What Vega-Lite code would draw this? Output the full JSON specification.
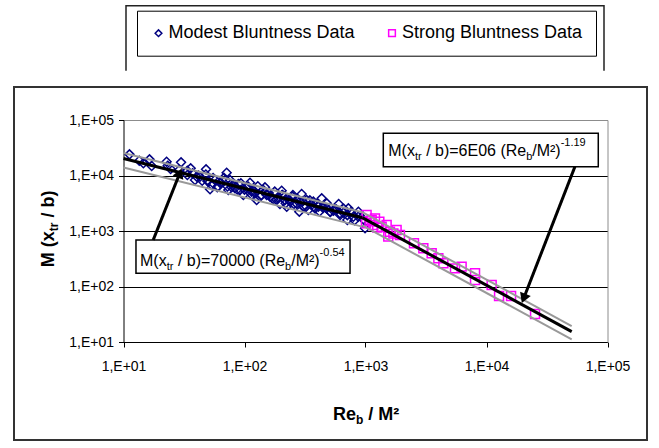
{
  "$schema": "https://vega.github.io/schema/vega-lite/v6.json",
  "autosize": {"type": "none"},
  "padding": {"left": 14, "top": 87, "right": 12, "bottom": 8},
  "width": 633,
  "height": 353,
  "background": "white",
  "config": {
    "view": {"stroke": "#333333", "strokeWidth": 2, "fill": "white"},
    "axis": {"labelFont": "Liberation Sans", "titleFont": "Liberation Sans", "titleColor": "#000", "labelColor": "#000"},
    "legend": {"labelFont": "Liberation Sans"},
    "text": {"font": "Liberation Sans"}
  },
  "datasets": {
    "pts": [
      {"series": "Modest Bluntness Data", "re": 11.2, "m": 24050},
      {"series": "Modest Bluntness Data", "re": 13.5, "m": 18500},
      {"series": "Modest Bluntness Data", "re": 14.6, "m": 16560},
      {"series": "Modest Bluntness Data", "re": 16.4, "m": 19540},
      {"series": "Modest Bluntness Data", "re": 17.1, "m": 14830},
      {"series": "Modest Bluntness Data", "re": 22.7, "m": 17750},
      {"series": "Modest Bluntness Data", "re": 23.2, "m": 15030},
      {"series": "Modest Bluntness Data", "re": 24.5, "m": 13090},
      {"series": "Modest Bluntness Data", "re": 29.9, "m": 17260},
      {"series": "Modest Bluntness Data", "re": 28.9, "m": 12560},
      {"series": "Modest Bluntness Data", "re": 33.7, "m": 12220},
      {"series": "Modest Bluntness Data", "re": 35.9, "m": 13460},
      {"series": "Modest Bluntness Data", "re": 33.7, "m": 10200},
      {"series": "Modest Bluntness Data", "re": 37.3, "m": 10930},
      {"series": "Modest Bluntness Data", "re": 39.0, "m": 8300},
      {"series": "Modest Bluntness Data", "re": 40.3, "m": 9530},
      {"series": "Modest Bluntness Data", "re": 42.9, "m": 9530},
      {"series": "Modest Bluntness Data", "re": 48.1, "m": 12910},
      {"series": "Modest Bluntness Data", "re": 49.3, "m": 7960},
      {"series": "Modest Bluntness Data", "re": 51.9, "m": 5640},
      {"series": "Modest Bluntness Data", "re": 53.6, "m": 6750},
      {"series": "Modest Bluntness Data", "re": 57.0, "m": 8300},
      {"series": "Modest Bluntness Data", "re": 59.6, "m": 6120},
      {"series": "Modest Bluntness Data", "re": 63.5, "m": 7220},
      {"series": "Modest Bluntness Data", "re": 71.2, "m": 11250},
      {"series": "Modest Bluntness Data", "re": 70.3, "m": 8300},
      {"series": "Modest Bluntness Data", "re": 75.9, "m": 8300},
      {"series": "Modest Bluntness Data", "re": 78.3, "m": 6120},
      {"series": "Modest Bluntness Data", "re": 73.5, "m": 5480},
      {"series": "Modest Bluntness Data", "re": 83.4, "m": 5870},
      {"series": "Modest Bluntness Data", "re": 88.9, "m": 7030},
      {"series": "Modest Bluntness Data", "re": 91.8, "m": 5480},
      {"series": "Modest Bluntness Data", "re": 97.8, "m": 4460},
      {"series": "Modest Bluntness Data", "re": 104.2, "m": 6120},
      {"series": "Modest Bluntness Data", "re": 111.0, "m": 7430},
      {"series": "Modest Bluntness Data", "re": 114.6, "m": 5120},
      {"series": "Modest Bluntness Data", "re": 122.1, "m": 4780},
      {"series": "Modest Bluntness Data", "re": 126.0, "m": 3620},
      {"series": "Modest Bluntness Data", "re": 134.3, "m": 4160},
      {"series": "Modest Bluntness Data", "re": 143.1, "m": 5480},
      {"series": "Modest Bluntness Data", "re": 147.6, "m": 6120},
      {"series": "Modest Bluntness Data", "re": 152.4, "m": 4460},
      {"series": "Modest Bluntness Data", "re": 162.5, "m": 4160},
      {"series": "Modest Bluntness Data", "re": 173.0, "m": 3720},
      {"series": "Modest Bluntness Data", "re": 184.5, "m": 3620},
      {"series": "Modest Bluntness Data", "re": 196.3, "m": 3070},
      {"series": "Modest Bluntness Data", "re": 202.8, "m": 5330},
      {"series": "Modest Bluntness Data", "re": 206.5, "m": 4460},
      {"series": "Modest Bluntness Data", "re": 216.3, "m": 3620},
      {"series": "Modest Bluntness Data", "re": 223.4, "m": 2740},
      {"series": "Modest Bluntness Data", "re": 237.7, "m": 3380},
      {"series": "Modest Bluntness Data", "re": 250.0, "m": 4160},
      {"series": "Modest Bluntness Data", "re": 256.4, "m": 3070},
      {"series": "Modest Bluntness Data", "re": 269.8, "m": 3620},
      {"series": "Modest Bluntness Data", "re": 283.8, "m": 2230},
      {"series": "Modest Bluntness Data", "re": 296.5, "m": 4650},
      {"series": "Modest Bluntness Data", "re": 310.3, "m": 2740},
      {"series": "Modest Bluntness Data", "re": 326.3, "m": 3620},
      {"series": "Modest Bluntness Data", "re": 337.1, "m": 2390},
      {"series": "Modest Bluntness Data", "re": 358.9, "m": 2940},
      {"series": "Modest Bluntness Data", "re": 370.7, "m": 3380},
      {"series": "Modest Bluntness Data", "re": 382.8, "m": 2560},
      {"series": "Modest Bluntness Data", "re": 407.6, "m": 2740},
      {"series": "Modest Bluntness Data", "re": 434.5, "m": 3880},
      {"series": "Modest Bluntness Data", "re": 442.6, "m": 2740},
      {"series": "Modest Bluntness Data", "re": 477.5, "m": 2560},
      {"series": "Modest Bluntness Data", "re": 509.2, "m": 2230},
      {"series": "Modest Bluntness Data", "re": 542.4, "m": 2320},
      {"series": "Modest Bluntness Data", "re": 600.0, "m": 3070},
      {"series": "Modest Bluntness Data", "re": 615.2, "m": 2080},
      {"series": "Modest Bluntness Data", "re": 655.6, "m": 2140},
      {"series": "Modest Bluntness Data", "re": 707.9, "m": 1580},
      {"series": "Modest Bluntness Data", "re": 721.6, "m": 2560},
      {"series": "Modest Bluntness Data", "re": 793.6, "m": 1810},
      {"series": "Modest Bluntness Data", "re": 873.7, "m": 2230},
      {"series": "Modest Bluntness Data", "re": 991.4, "m": 1120},
      {"series": "Modest Bluntness Data", "re": 960.0, "m": 1620},
      {"series": "Modest Bluntness Data", "re": 41.7, "m": 10000},
      {"series": "Modest Bluntness Data", "re": 44.7, "m": 8020},
      {"series": "Modest Bluntness Data", "re": 47.9, "m": 10420},
      {"series": "Modest Bluntness Data", "re": 50.1, "m": 8070},
      {"series": "Modest Bluntness Data", "re": 55.0, "m": 9020},
      {"series": "Modest Bluntness Data", "re": 60.3, "m": 6370},
      {"series": "Modest Bluntness Data", "re": 63.1, "m": 7460},
      {"series": "Modest Bluntness Data", "re": 67.6, "m": 9060},
      {"series": "Modest Bluntness Data", "re": 72.4, "m": 6320},
      {"series": "Modest Bluntness Data", "re": 77.6, "m": 6980},
      {"series": "Modest Bluntness Data", "re": 81.3, "m": 6980},
      {"series": "Modest Bluntness Data", "re": 87.1, "m": 5580},
      {"series": "Modest Bluntness Data", "re": 93.3, "m": 7260},
      {"series": "Modest Bluntness Data", "re": 100, "m": 5560},
      {"series": "Modest Bluntness Data", "re": 107.2, "m": 6300},
      {"series": "Modest Bluntness Data", "re": 114.8, "m": 4500},
      {"series": "Modest Bluntness Data", "re": 120.2, "m": 5270},
      {"series": "Modest Bluntness Data", "re": 128.8, "m": 6400},
      {"series": "Modest Bluntness Data", "re": 138.0, "m": 4460},
      {"series": "Modest Bluntness Data", "re": 147.9, "m": 4930},
      {"series": "Modest Bluntness Data", "re": 158.5, "m": 4860},
      {"series": "Modest Bluntness Data", "re": 169.8, "m": 3900},
      {"series": "Modest Bluntness Data", "re": 177.8, "m": 5130},
      {"series": "Modest Bluntness Data", "re": 190.5, "m": 3930},
      {"series": "Modest Bluntness Data", "re": 204.2, "m": 4450},
      {"series": "Modest Bluntness Data", "re": 218.8, "m": 3170},
      {"series": "Modest Bluntness Data", "re": 234.4, "m": 3670},
      {"series": "Modest Bluntness Data", "re": 251.2, "m": 4460},
      {"series": "Modest Bluntness Data", "re": 269.2, "m": 3110},
      {"series": "Modest Bluntness Data", "re": 288.4, "m": 3440},
      {"series": "Modest Bluntness Data", "re": 302.0, "m": 3440},
      {"series": "Modest Bluntness Data", "re": 323.6, "m": 2750},
      {"series": "Modest Bluntness Data", "re": 346.7, "m": 3570},
      {"series": "Modest Bluntness Data", "re": 371.5, "m": 2740},
      {"series": "Modest Bluntness Data", "re": 398.1, "m": 3100},
      {"series": "Modest Bluntness Data", "re": 416.9, "m": 2240},
      {"series": "Modest Bluntness Data", "re": 446.7, "m": 2590},
      {"series": "Modest Bluntness Data", "re": 478.6, "m": 3150},
      {"series": "Modest Bluntness Data", "re": 512.9, "m": 2200},
      {"series": "Modest Bluntness Data", "re": 549.5, "m": 2430},
      {"series": "Modest Bluntness Data", "re": 575.4, "m": 2430},
      {"series": "Modest Bluntness Data", "re": 616.6, "m": 1940},
      {"series": "Modest Bluntness Data", "re": 660.7, "m": 2520},
      {"series": "Modest Bluntness Data", "re": 707.9, "m": 1930},
      {"series": "Modest Bluntness Data", "re": 758.6, "m": 2190},
      {"series": "Modest Bluntness Data", "re": 812.8, "m": 1560},
      {"series": "Modest Bluntness Data", "re": 871.0, "m": 1810},
      {"series": "Strong Bluntness Data", "re": 1021, "m": 1940},
      {"series": "Strong Bluntness Data", "re": 1009, "m": 1374},
      {"series": "Strong Bluntness Data", "re": 1124, "m": 1578},
      {"series": "Strong Bluntness Data", "re": 1198, "m": 1690},
      {"series": "Strong Bluntness Data", "re": 1161, "m": 1282},
      {"series": "Strong Bluntness Data", "re": 1301, "m": 1473},
      {"series": "Strong Bluntness Data", "re": 1359, "m": 1197},
      {"series": "Strong Bluntness Data", "re": 1495, "m": 1282},
      {"series": "Strong Bluntness Data", "re": 1542, "m": 791},
      {"series": "Strong Bluntness Data", "re": 1592, "m": 973},
      {"series": "Strong Bluntness Data", "re": 1807, "m": 1042},
      {"series": "Strong Bluntness Data", "re": 1926, "m": 847},
      {"series": "Strong Bluntness Data", "re": 1080, "m": 1500},
      {"series": "Strong Bluntness Data", "re": 1250, "m": 1150},
      {"series": "Strong Bluntness Data", "re": 1700, "m": 900},
      {"series": "Strong Bluntness Data", "re": 2516, "m": 600},
      {"series": "Strong Bluntness Data", "re": 3006, "m": 488},
      {"series": "Strong Bluntness Data", "re": 3523, "m": 396},
      {"series": "Strong Bluntness Data", "re": 4000, "m": 322},
      {"series": "Strong Bluntness Data", "re": 4400, "m": 262},
      {"series": "Strong Bluntness Data", "re": 5490, "m": 212},
      {"series": "Strong Bluntness Data", "re": 6230, "m": 228},
      {"series": "Strong Bluntness Data", "re": 8040, "m": 173},
      {"series": "Strong Bluntness Data", "re": 8040, "m": 131},
      {"series": "Strong Bluntness Data", "re": 11030, "m": 106},
      {"series": "Strong Bluntness Data", "re": 12700, "m": 67.5},
      {"series": "Strong Bluntness Data", "re": 15960, "m": 67.5},
      {"series": "Strong Bluntness Data", "re": 25180, "m": 32}
    ],
    "lines": [
      {"series": "modest", "band": "fit", "re": 10, "m": 20200},
      {"series": "modest", "band": "fit", "re": 940, "m": 1735},
      {"series": "modest", "band": "upper", "re": 10, "m": 25400},
      {"series": "modest", "band": "upper", "re": 940, "m": 2185},
      {"series": "modest", "band": "lower", "re": 10, "m": 13960},
      {"series": "modest", "band": "lower", "re": 940, "m": 1200},
      {"series": "strong", "band": "fit", "re": 940, "m": 1738},
      {"series": "strong", "band": "fit", "re": 50600, "m": 15.4},
      {"series": "strong", "band": "upper", "re": 940, "m": 2188},
      {"series": "strong", "band": "upper", "re": 50600, "m": 19.4},
      {"series": "strong", "band": "lower", "re": 940, "m": 1259},
      {"series": "strong", "band": "lower", "re": 50600, "m": 11.2}
    ],
    "notes": [
      {"id": "modest", "bx": 12.68, "bx2": 745, "by": 689, "by2": 173, "tx": 13.69, "ty": 237,
       "p1": "M(x", "p2": "tr", "p3": "/ b)=70000 (Re", "p4": "b", "p5": "/M²)", "p6": "-0.54"},
      {"id": "strong", "bx": 1403, "bx2": 83900, "by": 57500, "by2": 14420, "tx": 1542, "ty": 22440,
       "p1": "M(x", "p2": "tr", "p3": "/ b)=6E06 (Re", "p4": "b", "p5": "/M²)", "p6": "-1.19"}
    ],
    "arrows": [
      {"id": "modest", "x": 17.6, "y": 689, "x2": 29.2, "y2": 11040},
      {"id": "strong", "x": 53800, "y": 14420, "x2": 20270, "y2": 60.8}
    ]
  },
  "resolve": {"axis": {"x": "independent", "y": "independent"}},
  "layer": [
    {
      "data": {"name": "pts"},
      "mark": {"type": "point", "filled": false, "strokeWidth": 1.5, "size": 80, "opacity": 1},
      "encoding": {
        "x": {"field": "re", "type": "quantitative",
          "scale": {"type": "log", "domain": [10, 100000], "range": [109.5, 593.5], "nice": false},
          "axis": {"orient": "bottom", "offset": -98, "values": [10, 100, 1000, 10000, 100000],
            "labelExpr": "'1,E+0' + round(log(datum.value)/LN10)", "grid": false,
            "domainColor": "#000", "domainWidth": 1, "tickColor": "#000", "tickSize": 5, "tickWidth": 1,
            "labelPadding": 12, "labelFontSize": 14, "labelFlush": false, "labelOverlap": false,
            "title": "Re", "titleX": 318.4, "titleY": 77.5, "titleAlign": "left", "titleBaseline": "alphabetic",
            "titleFontSize": 18, "titleFontWeight": "bold", "titleAngle": 0}},
        "y": {"field": "m", "type": "quantitative",
          "scale": {"type": "log", "domain": [10, 100000], "range": [255, 33], "nice": false},
          "axis": {"orient": "left", "offset": -109.5, "values": [10, 100, 1000, 10000, 100000],
            "labelExpr": "'1,E+0' + round(log(datum.value)/LN10)",
            "grid": true, "gridColor": "#000", "gridWidth": 1,
            "gridOpacity": {"condition": {"test": "datum.value >= 100000", "value": 0}, "value": 1},
            "domainColor": "#000", "domainWidth": 1, "tickColor": "#000", "tickSize": 5, "tickWidth": 1,
            "labelPadding": 5, "labelFontSize": 14, "labelFlush": false, "labelOverlap": false,
            "title": "M (x", "titleX": -70, "titleY": 179.7, "titleAngle": 270, "titleAlign": "left",
            "titleBaseline": "alphabetic", "titleFontSize": 18, "titleFontWeight": "bold"}},
        "color": {"field": "series", "type": "nominal",
          "scale": {"domain": ["Modest Bluntness Data", "Strong Bluntness Data"], "range": ["#000080", "#FF00FF"]},
          "legend": {"orient": "none", "legendX": 123, "legendY": -76.3, "direction": "horizontal", "title": null,
            "strokeColor": "#000", "padding": 13.5, "labelFontSize": 18, "labelColor": "#000", "labelLimit": 400,
            "labelOffset": 1, "columnPadding": 28.5, "symbolOffset": -1, "symbolSize": 45, "symbolStrokeWidth": 1.5}},
        "shape": {"field": "series", "type": "nominal",
          "scale": {"domain": ["Modest Bluntness Data", "Strong Bluntness Data"], "range": ["diamond", "square"]},
          "legend": {"orient": "none", "legendX": 123, "legendY": -76.3, "direction": "horizontal", "title": null,
            "strokeColor": "#000", "padding": 13.5, "labelFontSize": 18, "labelColor": "#000", "labelLimit": 400,
            "labelOffset": 1, "columnPadding": 28.5, "symbolOffset": -1, "symbolSize": 45, "symbolStrokeWidth": 1.5}}
      }
    },
    {
      "data": {"name": "lines"},
      "transform": [{"filter": "datum.band != 'fit'"}],
      "mark": {"type": "line", "color": "#999999", "strokeWidth": 2},
      "encoding": {
        "x": {"field": "re", "type": "quantitative",
          "axis": {"orient": "top", "offset": -33, "grid": false, "ticks": false, "labels": false,
            "domain": true, "domainColor": "#8c8c8c", "domainWidth": 1, "title": null}},
        "y": {"field": "m", "type": "quantitative",
          "axis": {"orient": "right", "offset": -39.5, "grid": false, "ticks": false, "labels": false,
            "domain": true, "domainColor": "#8c8c8c", "domainWidth": 1, "title": null}},
        "detail": [{"field": "series"}, {"field": "band"}]
      }
    },
    {
      "data": {"name": "lines"},
      "transform": [{"filter": "datum.band == 'fit'"}],
      "mark": {"type": "line", "color": "#000", "strokeWidth": 3},
      "encoding": {
        "x": {"field": "re", "type": "quantitative",
          "axis": {"orient": "bottom", "offset": -98, "grid": false, "ticks": false, "labels": false, "domain": false,
            "title": "b", "titleX": 341.4, "titleY": 81.5, "titleAlign": "left", "titleBaseline": "alphabetic",
            "titleFontSize": 12, "titleFontWeight": "bold", "titleAngle": 0}},
        "y": {"field": "m", "type": "quantitative",
          "axis": {"orient": "left", "offset": -109.5, "grid": false, "ticks": false, "labels": false, "domain": false,
            "title": "tr", "titleX": -66.5, "titleY": 143.7, "titleAngle": 270, "titleAlign": "left",
            "titleBaseline": "alphabetic", "titleFontSize": 12, "titleFontWeight": "bold"}},
        "detail": {"field": "series"}
      }
    },
    {
      "data": {"name": "notes"},
      "mark": {"type": "rect", "fill": "white", "stroke": "#000", "strokeWidth": 1.5},
      "encoding": {
        "x": {"field": "bx", "type": "quantitative",
          "axis": {"orient": "bottom", "offset": -98, "grid": false, "ticks": false, "labels": false, "domain": false,
            "title": "/ M²", "titleX": 353.7, "titleY": 77.5, "titleAlign": "left", "titleBaseline": "alphabetic",
            "titleFontSize": 18, "titleFontWeight": "bold", "titleAngle": 0}},
        "x2": {"field": "bx2"},
        "y": {"field": "by", "type": "quantitative",
          "axis": {"orient": "left", "offset": -109.5, "grid": false, "ticks": false, "labels": false, "domain": false,
            "title": "/ b)", "titleX": -70, "titleY": 130, "titleAngle": 270, "titleAlign": "left",
            "titleBaseline": "alphabetic", "titleFontSize": 18, "titleFontWeight": "bold"}},
        "y2": {"field": "by2"}
      }
    },
    {
      "data": {"name": "arrows"},
      "mark": {"type": "rule", "color": "#000", "strokeWidth": 3},
      "encoding": {
        "x": {"field": "x", "type": "quantitative", "axis": null},
        "y": {"field": "y", "type": "quantitative", "axis": null},
        "x2": {"field": "x2"},
        "y2": {"field": "y2"},
        "strokeDash": {"datum": "legend frame", "type": "nominal", "scale": {"range": [[1, 0]]},
          "legend": {"orient": "none", "legendX": 111, "legendY": -288.8, "title": null, "padding": 0,
            "symbolType": "M-1,0.136L-1,-0.136L1,-0.136L1,0.136", "symbolSize": 228484,
            "symbolStrokeWidth": 1.5, "symbolStrokeColor": "#222", "symbolFillColor": "transparent",
            "labelExpr": "''", "labelOffset": 0}}
      }
    },
    {
      "data": {"name": "arrows"},
      "transform": [{"filter": "datum.id == 'modest'"}],
      "mark": {"type": "point", "shape": "triangle-up", "filled": true, "color": "#000", "size": 130, "angle": 21.6, "opacity": 1},
      "encoding": {
        "x": {"field": "x2", "type": "quantitative", "axis": null},
        "y": {"field": "y2", "type": "quantitative", "axis": null}
      }
    },
    {
      "data": {"name": "arrows"},
      "transform": [{"filter": "datum.id == 'strong'"}],
      "mark": {"type": "point", "shape": "triangle-up", "filled": true, "color": "#000", "size": 130, "angle": 201.2, "opacity": 1},
      "encoding": {
        "x": {"field": "x2", "type": "quantitative", "axis": null},
        "y": {"field": "y2", "type": "quantitative", "axis": null}
      }
    },
    {"data": {"name": "notes"}, "transform": [{"filter": "datum.id == 'modest'"}],
     "mark": {"type": "text", "align": "left", "baseline": "alphabetic", "fontSize": 16, "color": "#000", "dx": 0},
     "encoding": {"x": {"field": "tx", "type": "quantitative", "axis": null}, "y": {"field": "ty", "type": "quantitative", "axis": null}, "text": {"field": "p1"}}},
    {"data": {"name": "notes"}, "transform": [{"filter": "datum.id == 'modest'"}],
     "mark": {"type": "text", "align": "left", "baseline": "alphabetic", "fontSize": 11, "color": "#000", "dx": 26.7, "dy": 4},
     "encoding": {"x": {"field": "tx", "type": "quantitative", "axis": null}, "y": {"field": "ty", "type": "quantitative", "axis": null}, "text": {"field": "p2"}}},
    {"data": {"name": "notes"}, "transform": [{"filter": "datum.id == 'modest'"}],
     "mark": {"type": "text", "align": "left", "baseline": "alphabetic", "fontSize": 16, "color": "#000", "dx": 37.9},
     "encoding": {"x": {"field": "tx", "type": "quantitative", "axis": null}, "y": {"field": "ty", "type": "quantitative", "axis": null}, "text": {"field": "p3"}}},
    {"data": {"name": "notes"}, "transform": [{"filter": "datum.id == 'modest'"}],
     "mark": {"type": "text", "align": "left", "baseline": "alphabetic", "fontSize": 11, "color": "#000", "dx": 145.1, "dy": 4},
     "encoding": {"x": {"field": "tx", "type": "quantitative", "axis": null}, "y": {"field": "ty", "type": "quantitative", "axis": null}, "text": {"field": "p4"}}},
    {"data": {"name": "notes"}, "transform": [{"filter": "datum.id == 'modest'"}],
     "mark": {"type": "text", "align": "left", "baseline": "alphabetic", "fontSize": 16, "color": "#000", "dx": 151.2},
     "encoding": {"x": {"field": "tx", "type": "quantitative", "axis": null}, "y": {"field": "ty", "type": "quantitative", "axis": null}, "text": {"field": "p5"}}},
    {"data": {"name": "notes"}, "transform": [{"filter": "datum.id == 'modest'"}],
     "mark": {"type": "text", "align": "left", "baseline": "alphabetic", "fontSize": 11, "color": "#000", "dx": 179.6, "dy": -10},
     "encoding": {"x": {"field": "tx", "type": "quantitative", "axis": null}, "y": {"field": "ty", "type": "quantitative", "axis": null}, "text": {"field": "p6"}}},
    {"data": {"name": "notes"}, "transform": [{"filter": "datum.id == 'strong'"}],
     "mark": {"type": "text", "align": "left", "baseline": "alphabetic", "fontSize": 16, "color": "#000", "dx": 0},
     "encoding": {"x": {"field": "tx", "type": "quantitative", "axis": null}, "y": {"field": "ty", "type": "quantitative", "axis": null}, "text": {"field": "p1"}}},
    {"data": {"name": "notes"}, "transform": [{"filter": "datum.id == 'strong'"}],
     "mark": {"type": "text", "align": "left", "baseline": "alphabetic", "fontSize": 11, "color": "#000", "dx": 26.7, "dy": 4},
     "encoding": {"x": {"field": "tx", "type": "quantitative", "axis": null}, "y": {"field": "ty", "type": "quantitative", "axis": null}, "text": {"field": "p2"}}},
    {"data": {"name": "notes"}, "transform": [{"filter": "datum.id == 'strong'"}],
     "mark": {"type": "text", "align": "left", "baseline": "alphabetic", "fontSize": 16, "color": "#000", "dx": 37.9},
     "encoding": {"x": {"field": "tx", "type": "quantitative", "axis": null}, "y": {"field": "ty", "type": "quantitative", "axis": null}, "text": {"field": "p3"}}},
    {"data": {"name": "notes"}, "transform": [{"filter": "datum.id == 'strong'"}],
     "mark": {"type": "text", "align": "left", "baseline": "alphabetic", "fontSize": 11, "color": "#000", "dx": 137.9, "dy": 4},
     "encoding": {"x": {"field": "tx", "type": "quantitative", "axis": null}, "y": {"field": "ty", "type": "quantitative", "axis": null}, "text": {"field": "p4"}}},
    {"data": {"name": "notes"}, "transform": [{"filter": "datum.id == 'strong'"}],
     "mark": {"type": "text", "align": "left", "baseline": "alphabetic", "fontSize": 16, "color": "#000", "dx": 144.0},
     "encoding": {"x": {"field": "tx", "type": "quantitative", "axis": null}, "y": {"field": "ty", "type": "quantitative", "axis": null}, "text": {"field": "p5"}}},
    {"data": {"name": "notes"}, "transform": [{"filter": "datum.id == 'strong'"}],
     "mark": {"type": "text", "align": "left", "baseline": "alphabetic", "fontSize": 11, "color": "#000", "dx": 172.4, "dy": -10},
     "encoding": {"x": {"field": "tx", "type": "quantitative", "axis": null}, "y": {"field": "ty", "type": "quantitative", "axis": null}, "text": {"field": "p6"}}}
  ]
}
